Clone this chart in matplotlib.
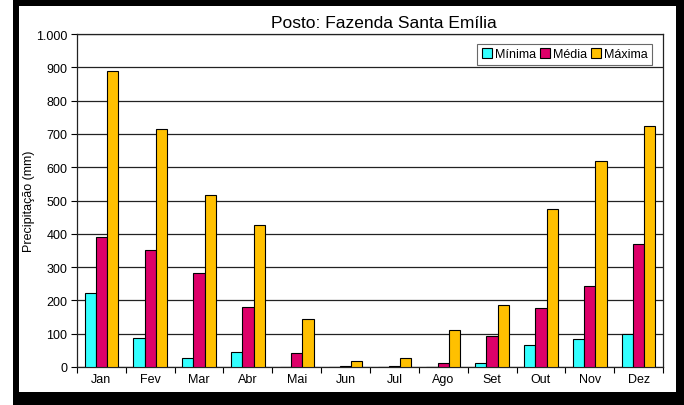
import matplotlib.pyplot as plt
import numpy as np
from matplotlib.patches import Rectangle

plt.rcParams['font.family'] = ['Liberation Sans', 'DejaVu Sans']

# Monthly rainfall (mm)
meses = ["Jan", "Fev", "Mar", "Abr", "Mai", "Jun", "Jul", "Ago", "Set", "Out", "Nov", "Dez"]
minima = [223, 88, 28, 45, 0, 0, 0, 0, 12, 65, 85, 98]
media = [390, 350, 282, 180, 42, 2, 2, 12, 92, 178, 243, 368]
maxima = [888, 715, 518, 427, 143, 18, 28, 110, 186, 475, 620, 725]

series = [("Mínima", minima, "#33FFFF"),
          ("Média", media, "#DD0069"),
          ("Máxima", maxima, "#FFC000")]

W, H = 684, 406
fig = plt.figure(figsize=(W / 100, H / 100), dpi=100)


def px_rect(x0, y0, x1, y1, color):
    # rectangle given in pixel coordinates (origin top-left)
    return Rectangle((x0 / W, 1 - y1 / H), (x1 - x0) / W, (y1 - y0) / H,
                     transform=fig.transFigure, facecolor=color, edgecolor='none', zorder=-10)


# thick black frame around the chart
fig.add_artist(px_rect(13, 0, 684, 406, 'black'))
fig.add_artist(px_rect(19, 7, 676, 393, 'white'))

ax = fig.add_axes([77 / W, 1 - 368 / H, (663 - 77) / W, (368 - 35) / H])
ax.set_facecolor('white')

x = np.arange(len(meses))
bw = 0.23
for i, (name, vals, col) in enumerate(series):
    ax.bar(x + (i - 1) * bw, vals, bw, color=col, edgecolor='black',
           linewidth=0.8, label=name, zorder=3)

ax.set_xlim(-0.5, len(meses) - 0.5)
ax.set_ylim(0, 1000)
ax.set_yticks(np.arange(0, 1001, 100))
ax.set_yticklabels([f"{v:,}".replace(",", ".") for v in range(0, 1001, 100)], fontsize=9)
ax.yaxis.grid(True, color='#222222', linewidth=0.9)
ax.set_axisbelow(True)

# category ticks at group boundaries, labels at centres
ax.set_xticks(np.arange(-0.5, len(meses)), minor=False)
ax.set_xticklabels([])
ax.set_xticks(x, minor=True)
ax.set_xticklabels(meses, minor=True, fontsize=9)
ax.tick_params(axis='x', which='major', length=4, color='black')
ax.tick_params(axis='x', which='minor', length=0, pad=4)
ax.tick_params(axis='y', length=4, pad=3)

for s in ax.spines.values():
    s.set_color('#222222')
    s.set_linewidth(0.9)

ax.set_ylabel("Precipitação (mm)", fontsize=9)
ax.yaxis.set_label_coords((35 - 77) / 586, 0.5)
ax.set_title("Posto: Fazenda Santa Emília", fontsize=12.5, pad=5, x=(384 - 77) / 586)

leg = ax.legend(loc='upper right', ncol=3, fontsize=9, frameon=True, fancybox=False,
                edgecolor='#444444', handlelength=0.8, handleheight=0.8, handletextpad=0.25,
                columnspacing=0.3, borderpad=0.35, borderaxespad=0,
                bbox_to_anchor=((652 - 77) / 586, 1 - (45 - 35) / 333))
leg.get_frame().set_linewidth(0.8)

fig.savefig("out.png", dpi=100)
